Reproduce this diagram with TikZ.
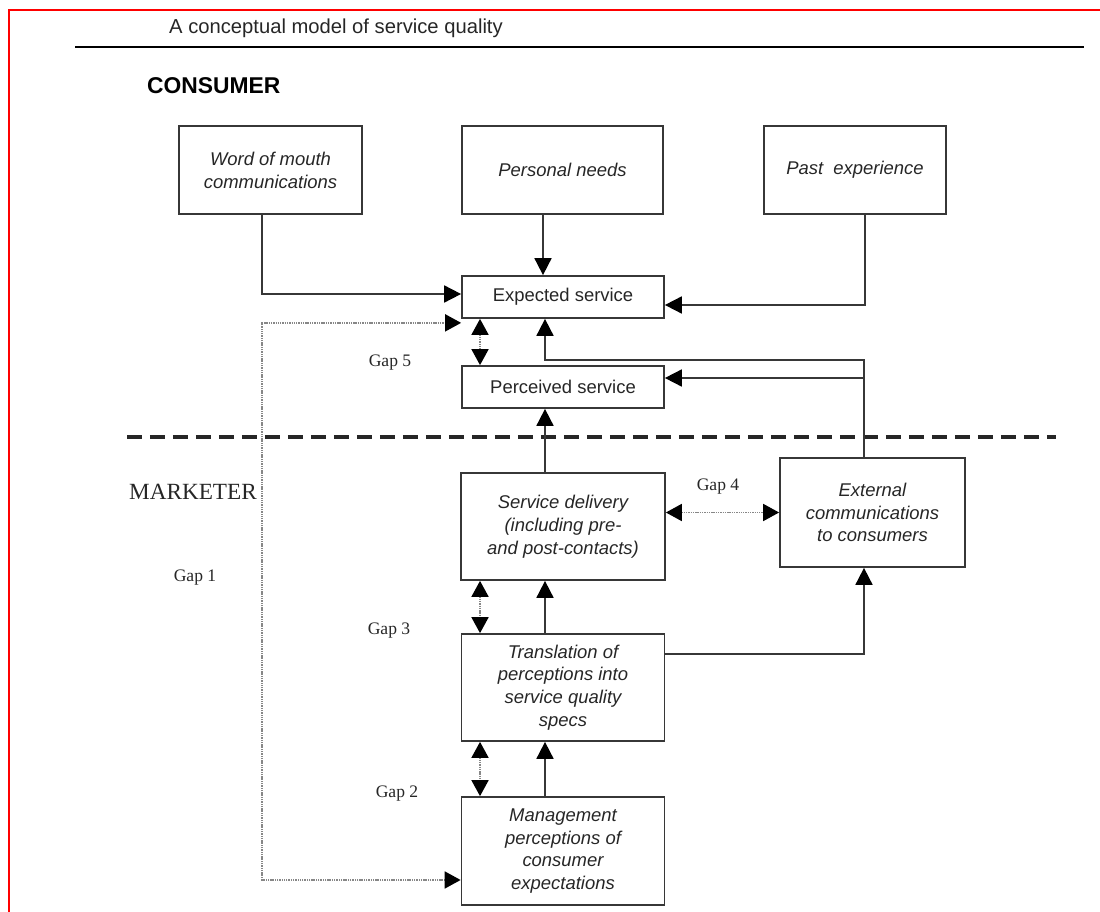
\documentclass[tikz,border=0pt]{standalone}
\usepackage{fontspec}
\setmainfont{Liberation Serif}
\setsansfont{Liberation Sans}
\usepackage{xcolor}
\usepackage{tikz}
\usetikzlibrary{positioning,arrows.meta}
\definecolor{boxgrey}{RGB}{55,55,55}
\definecolor{gapgrey}{RGB}{135,135,135}
\definecolor{framered}{RGB}{255,0,0}

\begin{document}
\begin{tikzpicture}[x=0.02cm, y=-0.02cm,
  box/.style={draw=boxgrey, line width=1pt, rectangle, align=center, text=black!85,
    font=\sffamily\itshape\fontsize{10.5}{13}\selectfont},
  plainbox/.style={box, font=\sffamily\fontsize{10.5}{13}\selectfont},
  flow/.style={-{Triangle[length=0.34cm,width=0.34cm,black]}, line width=1pt, draw=boxgrey},
  gaparrow/.style={{Triangle[length=0.32cm,width=0.34cm,black]}-{Triangle[length=0.32cm,width=0.34cm,black]}, line width=1pt, gapgrey, dash pattern=on 0.8pt off 0.5pt},
  gaplabel/.style={font=\fontsize{10}{12}\selectfont, text=black!85}
]
\useasboundingbox (0,0) rectangle (1100,912);

% page frame and heading
\draw[framered, line width=1.2pt] (9,912) -- (9,10) -- (1100,10);
\node[anchor=west, font=\sffamily\fontsize{11.5}{14}\selectfont, text=black!85] (title) at (163,28) {A conceptual model of service quality};
\draw[line width=1.7pt] (75,47) -- (1084,47);

\node[anchor=west, font=\sffamily\bfseries\fontsize{13}{15}\selectfont] (consumer) at (141,86) {CONSUMER};

% consumer side
\node[box, minimum width=3.66cm, minimum height=1.76cm] (mouth) at (270.5,170) {Word of mouth\\communications};
\node[box, minimum width=4.02cm, minimum height=1.76cm] (needs) at (562.5,170) {Personal needs};
\node[box, minimum width=3.64cm, minimum height=1.76cm] (past) at (855,170) {Past~ experience};

\node[plainbox, minimum width=4.04cm, minimum height=0.84cm] (expected) at (563,297) {Expected service};
\node[plainbox, minimum width=4.04cm, minimum height=0.84cm] (perceived) at (563,387) {Perceived service};

\node[gaplabel] (gap5) at (390,363) {Gap 5};

% border between the two sides
\draw[line width=2.3pt, black!85, dash pattern=on 0.3cm off 0.16cm] (127,437) -- (1056,437);

% marketer side
\node[font=\fontsize{13.2}{15}\selectfont, text=black!85] (marketer) at (193,492) {MARKETER};

\node[box, minimum width=4.08cm, minimum height=2.14cm] (delivery) at (563,526.5) {Service delivery\\(including pre-\\and post-contacts)};
\node[box, minimum width=3.7cm, minimum height=2.18cm] (external) at (872.5,512.5) {External\\communications\\to consumers};
\node[box, minimum width=4.06cm, minimum height=2.14cm] (translation) at (563,687.5) {Translation of\\perceptions into\\service quality\\specs};
\node[box, minimum width=4.06cm, minimum height=2.16cm] (mgmt) at (563,851) {Management\\perceptions of\\consumer\\expectations};

\node[gaplabel] (gap4) at (718,487) {Gap 4};
\node[gaplabel] (gap3) at (389,631) {Gap 3};
\node[gaplabel] (gap2) at (397,794) {Gap 2};
\node[gaplabel] (gap1) at (195,578) {Gap 1};

% influences on expectations
\draw[flow] ([xshift=-0.17cm]mouth.south) |- ([yshift=0.06cm]expected.west);
\draw[flow] ([xshift=-0.39cm]needs.south) -- ([xshift=-0.4cm]expected.north);
\draw[flow] ([xshift=0.2cm]past.south) |- ([yshift=-0.16cm]expected.east);

% external communications feed both
\coordinate (bend) at (864,360);
\coordinate (branch) at (864,378);
\draw[flow] ([xshift=-0.17cm]external.north) -- (bend) -| ([xshift=-0.36cm]expected.south);
\draw[flow] (branch) -- ([yshift=0.18cm]perceived.east);

% main column
\draw[flow] ([xshift=-0.36cm]delivery.north) -- ([xshift=-0.36cm]perceived.south);
\draw[flow] ([xshift=-0.36cm]translation.north) -- ([xshift=-0.36cm]delivery.south);
\draw[flow] ([xshift=-0.36cm]mgmt.north) -- ([xshift=-0.36cm]translation.south);
\draw[flow] ([yshift=0.67cm]translation.east) -| ([xshift=-0.17cm]external.south);

% gaps
\draw[gaparrow] ([xshift=-1.66cm]expected.south) -- ([xshift=-1.66cm]perceived.north);
\draw[gaparrow] (delivery.east |- external.west) -- (external.west);
\draw[gaparrow] ([xshift=-1.66cm]delivery.south) -- ([xshift=-1.66cm]translation.north);
\draw[gaparrow] ([xshift=-1.66cm]translation.south) -- ([xshift=-1.66cm]mgmt.north);
\coordinate (gapturn) at (262,600);
\draw[gaparrow] ([yshift=-0.58cm]mgmt.west) -| (gapturn) |- ([yshift=-0.08cm]expected.south west);
\end{tikzpicture}
\end{document}
